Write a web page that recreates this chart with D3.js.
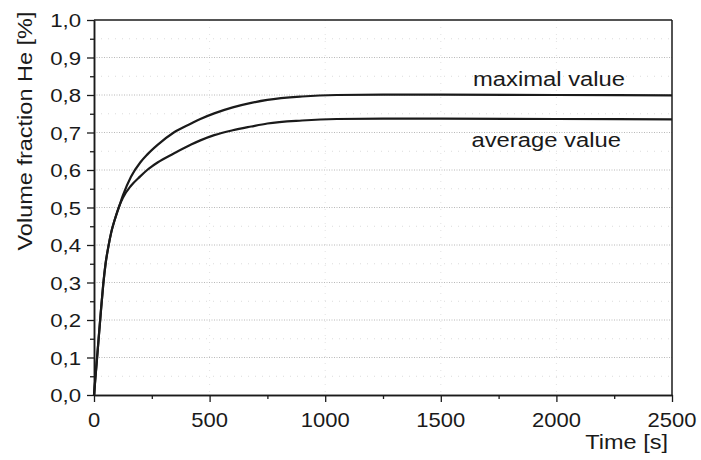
<!DOCTYPE html>
<html>
<head>
<meta charset="utf-8">
<script src="https://cdn.jsdelivr.net/npm/d3@7"></script>
<style>
  html, body { margin: 0; padding: 0; background: #fff; }
  svg { display: block; }
  text { font-family: "Liberation Sans", Arial, sans-serif; fill: #1a1a1a; }
</style>
</head>
<body>
<svg id="chart" width="701" height="460"></svg>
<script>
// ---- data ----
const times = [0, 10, 20, 30, 40, 50, 62, 75, 90, 110, 125, 160, 200, 230, 275, 345, 420, 460, 520, 600, 680, 750, 900, 1050, 1250, 1500, 2000, 2500];
const maxValues = [0, 0.075, 0.15, 0.225, 0.295, 0.35, 0.395, 0.435, 0.468, 0.505, 0.532, 0.582, 0.620, 0.641, 0.667, 0.700, 0.724, 0.736, 0.751, 0.767, 0.779, 0.787, 0.796, 0.800, 0.801, 0.801, 0.800, 0.799];
const avgValues = [0, 0.075, 0.15, 0.225, 0.295, 0.35, 0.395, 0.435, 0.468, 0.505, 0.526, 0.558, 0.583, 0.600, 0.620, 0.644, 0.668, 0.679, 0.693, 0.706, 0.716, 0.724, 0.732, 0.736, 0.737, 0.737, 0.736, 0.735];
const seriesNames = ["maximal value", "average value"];
const xTickValues = [0, 500, 1000, 1500, 2000, 2500];
const xMinorTicks = [250, 750, 1250, 1750, 2250];
const yTickValues = [0, 0.1, 0.2, 0.3, 0.4, 0.5, 0.6, 0.7, 0.8, 0.9, 1.0];
const yMinorTicks = [0.05, 0.15, 0.25, 0.35, 0.45, 0.55, 0.65, 0.75, 0.85, 0.95];
const xTitle = "Time [s]";
const yTitle = "Volume fraction He [%]";

// ---- layout ----
const svg = d3.select("#chart");
const pL = 94, pR = 672, pT = 20, pB = 395;
const x = d3.scaleLinear().domain([0, 2500]).range([pL, pR]);
const y = d3.scaleLinear().domain([0, 1]).range([pB, pT]);
const fmt = d => d3.format(".1f")(d).replace(".", ",");
const ink = "#1a1a1a";

// grid
const grid = svg.append("g");
grid.selectAll("line.ymin").data(yMinorTicks).join("line")
  .attr("x1", pL).attr("x2", pR).attr("y1", d => y(d)).attr("y2", d => y(d))
  .attr("stroke", "#dcdcdc").attr("stroke-width", 1).attr("stroke-dasharray", "1,6");
grid.selectAll("line.xmaj").data(xTickValues.slice(1, -1)).join("line")
  .attr("x1", d => x(d)).attr("x2", d => x(d)).attr("y1", pT).attr("y2", pB)
  .attr("stroke", "#e2e2e2").attr("stroke-width", 1).attr("stroke-dasharray", "1,6");
grid.selectAll("line.ymaj").data(yTickValues.slice(1, -1)).join("line")
  .attr("x1", pL).attr("x2", pR).attr("y1", d => y(d)).attr("y2", d => y(d))
  .attr("stroke", "#b8b8b8").attr("stroke-width", 1).attr("stroke-dasharray", "1,1.5");

// frame top and right
svg.append("line").attr("x1", pL).attr("x2", pR).attr("y1", pT).attr("y2", pT)
  .attr("stroke", ink).attr("stroke-width", 1.5);
svg.append("line").attr("x1", pR).attr("x2", pR).attr("y1", pT).attr("y2", pB)
  .attr("stroke", ink).attr("stroke-width", 1.5);

// axes
const xAxis = svg.append("g").attr("transform", `translate(0,${pB})`)
  .call(d3.axisBottom(x).tickValues(xTickValues).tickSize(7).tickSizeOuter(0).tickFormat(""));
const xMinor = svg.append("g").attr("transform", `translate(0,${pB})`)
  .call(d3.axisBottom(x).tickValues(xMinorTicks).tickSize(4).tickSizeOuter(0).tickFormat(""));
const yAxis = svg.append("g").attr("transform", `translate(${pL},0)`)
  .call(d3.axisLeft(y).tickValues(yTickValues).tickSize(7).tickSizeOuter(0).tickFormat(""));
const yMinor = svg.append("g").attr("transform", `translate(${pL},0)`)
  .call(d3.axisLeft(y).tickValues(yMinorTicks).tickSize(4).tickSizeOuter(0).tickFormat(""));
[xAxis, xMinor, yAxis, yMinor].forEach(g => {
  g.selectAll("path").attr("stroke", ink).attr("stroke-width", 1.5);
  g.selectAll("line").attr("stroke", ink).attr("stroke-width", 1.3);
});

// tick labels
svg.append("g").selectAll("text").data(xTickValues).join("text")
  .attr("transform", d => `translate(${x(d)},426.5) scale(1.1,1)`)
  .attr("text-anchor", "middle").attr("font-size", 20)
  .text(d => d);
svg.append("g").selectAll("text").data(yTickValues).join("text")
  .attr("transform", d => `translate(81,${y(d) + 7}) scale(1.17,1)`)
  .attr("text-anchor", "end").attr("font-size", 19)
  .text(fmt);

// titles
svg.append("text").attr("transform", `translate(668,448.5) scale(1.12,1)`)
  .attr("text-anchor", "end").attr("font-size", 21).text(xTitle);
svg.append("text").attr("transform", `translate(31.5,131) rotate(-90) scale(1.12,1)`)
  .attr("text-anchor", "middle").attr("font-size", 21).text(yTitle);

// lines
const line = d3.line().curve(d3.curveMonotoneX);
const series = [maxValues, avgValues];
svg.append("g").selectAll("path").data(series).join("path")
  .attr("d", vals => line(times.map((t, i) => [x(t), y(vals[i])])))
  .attr("fill", "none").attr("stroke", ink).attr("stroke-width", 2.2)
  .attr("stroke-linejoin", "round");

// series labels
const labelPos = [[473, 86], [471.5, 147.3]];
svg.append("g").selectAll("text").data(seriesNames).join("text")
  .attr("transform", (d, i) => `translate(${labelPos[i][0]},${labelPos[i][1]}) scale(1.19,1)`)
  .attr("font-size", 20).text(d => d);
</script>
</body>
</html>
